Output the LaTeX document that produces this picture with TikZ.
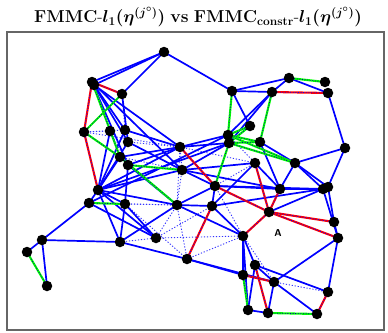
\documentclass[tikz,border=0pt]{standalone}
\usepackage{amsmath}
\begin{document}
\begin{tikzpicture}[x=1pt,y=-1pt,
  be/.style={draw=blue, line width=1.7pt},
  bd/.style={draw=blue!80, line width=0.9pt, dash pattern=on 1.2pt off 1.8pt},
  re/.style={draw=red, line width=2.1pt, postaction={draw=blue, line width=0.7pt, dash pattern=on 1pt off 1.6pt}},
  ge/.style={draw=green, line width=2.1pt, postaction={draw=blue!60!black, line width=0.7pt, dash pattern=on 1pt off 1.6pt}},
  vx/.style={circle, fill=black, inner sep=0pt, minimum size=10.5pt}]
\useasboundingbox (0,0) rectangle (388,332);
\node (title) at (198,17) {\fontsize{17.5}{20}\selectfont$\boldsymbol{\mathrm{FMMC}\text{-}l_1(\eta^{(j^\circ)})}$ \textbf{vs} $\boldsymbol{\mathrm{FMMC}_{\mathrm{constr}}\text{-}l_1(\eta^{(j^\circ)})}$};
\draw[gray!80!black, line width=1.4pt] (7,32) rectangle (384,330);
% coordinates
\foreach \n/\x/\y in {1/164/52,2/92/82,3/122/94,4/84/132,5/110/131,6/125/130,7/128/142,8/120/157,9/128/165,10/180/147,11/182/170,12/98/190,13/89/203,14/125/204,15/177/205,16/42/240,17/27/252,18/47/286,19/120/242,20/156/238,21/187/259,22/232/91,23/272/92,24/289/78,25/325/82,26/328/93,27/250/126,28/228/135,29/229/143,30/260/142,31/295/163,32/345/148,33/255/163,34/215/186,35/280/189,36/323/189,37/212/206,38/269/212,39/334/222,40/338/238,41/243/236,42/255/265,43/243/275,44/274/282,45/328/292,46/248/310,47/268/313,48/317/314,49/328/187,50/94/85}
  \coordinate (c\n) at (\x,\y);
% dotted edges
\foreach \a/\b in {4/5,4/6,4/10,3/6,5/9,6/10,7/10,10/11,10/15,11/15,11/34,14/15,14/21,20/37,15/20,41/46,44/45,41/44,10/33,28/33,31/29,33/34,34/41,19/20,15/21,21/41,42/45,8/11,13/15,20/41,12/10}
  \draw[bd] (c\a) -- (c\b);
% blue edges
\foreach \a/\b in {1/2,1/50,1/3,1/22,2/6,2/7,2/9,50/10,2/11,3/7,5/12,6/12,7/12,8/12,10/12,11/12,12/15,12/14,12/13,12/20,6/10,7/11,8/10,9/10,9/14,9/15,10/28,10/29,11/29,11/33,11/35,13/16,16/17,16/18,16/19,19/12,19/14,19/15,19/21,13/20,15/37,15/34,15/41,21/43,21/44,37/34,37/41,37/36,34/36,35/36,31/36,31/49,34/35,38/36,41/42,41/43,41/46,39/40,39/49,40/36,40/44,40/45,45/42,48/44,47/46,47/44,42/44,46/42,22/23,22/24,24/26,23/24,26/32,32/49,32/31,22/27,23/28,23/29,30/31,30/35,29/12,28/13,33/35,31/35,11/34,14/20,33/37}
  \draw[be] (c\a) -- (c\b);
% red edges
\foreach \a/\b in {2/3,2/4,4/12,10/34,34/38,38/39,38/40,35/38,21/37,41/38,33/38,23/26,45/48,42/47,43/44}
  \draw[re] (c\a) -- (c\b);
% green edges
\foreach \a/\b in {3/4,2/8,4/8,9/11,8/15,17/18,13/14,24/25,22/28,23/30,27/28,27/29,28/31,29/31,30/28,29/30,29/34,48/47,43/46}
  \draw[ge] (c\a) -- (c\b);
% vertices
\foreach \n in {1,...,50}
  \node[vx] (v\n) at (c\n) {};
\node[font=\sffamily\bfseries\fontsize{10}{10}\selectfont] (lblA) at (278,233) {A};
\end{tikzpicture}
\end{document}
